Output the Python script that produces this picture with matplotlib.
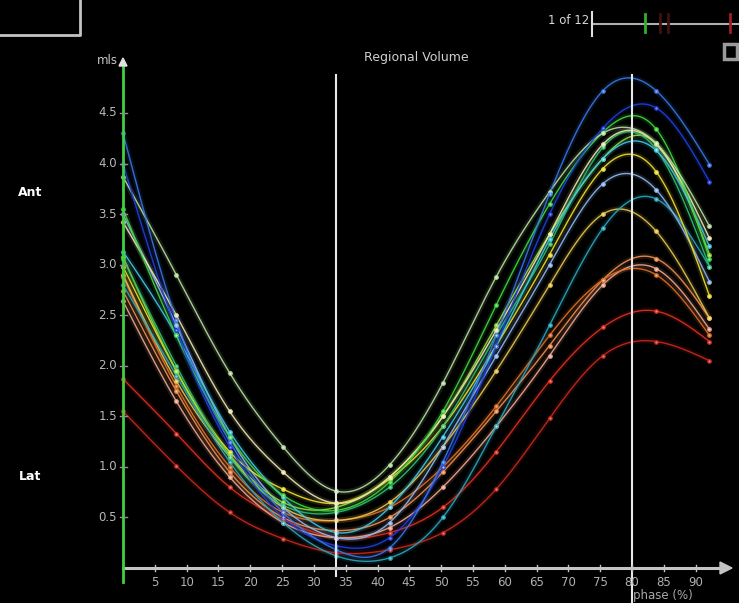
import numpy as np
import matplotlib.pyplot as plt
from matplotlib.patches import Polygon, Rectangle

# phase points (12 frames)
phase = [0, 8.38, 16.76, 25.14, 33.52, 41.9, 50.28, 58.66, 67.04, 75.42, 83.8, 92.18]

seg_blue = [4.30, 2.45, 1.25, 0.55, 0.18, 0.20, 1.05, 2.30, 3.70, 4.72, 4.72, 3.99]
seg_darkblue = [4.00, 2.35, 1.20, 0.50, 0.22, 0.30, 1.00, 2.20, 3.50, 4.35, 4.55, 3.82]
seg_palegreen = [3.87, 2.90, 1.93, 1.20, 0.76, 1.02, 1.83, 2.88, 3.72, 4.30, 4.20, 3.38]
seg_green = [3.55, 2.30, 1.30, 0.72, 0.57, 0.85, 1.55, 2.60, 3.60, 4.31, 4.34, 3.06]
seg_cream = [3.42, 2.50, 1.55, 0.95, 0.64, 0.90, 1.50, 2.35, 3.30, 4.19, 4.19, 3.26]
seg_cyan = [3.13, 2.30, 1.35, 0.70, 0.35, 0.60, 1.30, 2.20, 3.25, 4.05, 4.13, 3.18]
seg_green2 = [3.06, 2.00, 1.10, 0.62, 0.55, 0.80, 1.40, 2.30, 3.20, 4.16, 4.14, 2.98]
seg_lime = [3.08, 1.95, 1.12, 0.65, 0.60, 0.90, 1.50, 2.40, 3.30, 4.05, 4.20, 3.10]
seg_yellow = [2.98, 1.95, 1.15, 0.78, 0.64, 0.88, 1.40, 2.20, 3.10, 3.95, 3.92, 2.69]
seg_lightblue = [3.50, 2.40, 1.30, 0.60, 0.30, 0.45, 1.20, 2.10, 3.00, 3.80, 3.74, 2.83]
seg_teal = [2.80, 1.90, 1.05, 0.45, 0.12, 0.10, 0.50, 1.40, 2.40, 3.36, 3.65, 2.98]
seg_gold = [2.90, 1.85, 1.10, 0.60, 0.47, 0.65, 1.20, 1.95, 2.80, 3.50, 3.33, 2.47]
seg_orange = [2.74, 1.75, 0.95, 0.50, 0.37, 0.50, 0.95, 1.55, 2.20, 2.85, 3.06, 2.47]
seg_salmon = [2.64, 1.65, 0.90, 0.45, 0.30, 0.40, 0.80, 1.40, 2.10, 2.80, 2.96, 2.36]
seg_darkorange = [2.88, 1.80, 1.00, 0.55, 0.47, 0.60, 1.00, 1.60, 2.30, 2.85, 2.90, 2.30]
seg_red = [1.87, 1.33, 0.80, 0.48, 0.30, 0.35, 0.60, 1.15, 1.85, 2.38, 2.54, 2.24]
seg_darkred = [1.55, 1.01, 0.55, 0.29, 0.15, 0.18, 0.35, 0.78, 1.48, 2.10, 2.24, 2.05]

segments = [
    (seg_darkred, '#c8281e'), (seg_red, '#e03020'), (seg_salmon, '#f0a890'),
    (seg_orange, '#f09050'), (seg_darkorange, '#e07028'), (seg_gold, '#e8c850'),
    (seg_teal, '#2aa8c0'), (seg_lightblue, '#90b8f0'), (seg_yellow, '#f0e030'),
    (seg_lime, '#90e040'), (seg_green2, '#30c070'), (seg_cyan, '#40c8e8'),
    (seg_cream, '#f0e8b0'), (seg_green, '#40d840'), (seg_palegreen, '#b8e0a0'),
    (seg_darkblue, '#2040e0'), (seg_blue, '#3878e8'),
]

y_ticks = [0.5, 1.0, 1.5, 2.0, 2.5, 3.0, 3.5, 4.0, 4.5]
x_ticks = list(range(5, 95, 5))


def natural_spline(x, y, xs):
    x = np.asarray(x, float)
    y = np.asarray(y, float)
    n = len(x)
    h = np.diff(x)
    A = np.zeros((n, n))
    b = np.zeros(n)
    A[0, 0] = 1
    A[-1, -1] = 1
    for i in range(1, n - 1):
        A[i, i - 1] = h[i - 1]
        A[i, i] = 2 * (h[i - 1] + h[i])
        A[i, i + 1] = h[i]
        b[i] = 6 * ((y[i + 1] - y[i]) / h[i] - (y[i] - y[i - 1]) / h[i - 1])
    M = np.linalg.solve(A, b)
    idx = np.clip(np.searchsorted(x, xs) - 1, 0, n - 2)
    x0, x1 = x[idx], x[idx + 1]
    hh = x1 - x0
    t0, t1 = x1 - xs, xs - x0
    return (M[idx] * t0**3 / (6 * hh) + M[idx + 1] * t1**3 / (6 * hh)
            + (y[idx] / hh - M[idx] * hh / 6) * t0
            + (y[idx + 1] / hh - M[idx + 1] * hh / 6) * t1)


W, H = 739, 603
fig = plt.figure(figsize=(W / 100, H / 100), dpi=100, facecolor='black')

# data axes spanning the whole figure; x=0 at px 123, x=80 at px 632, y=0 at py 568, y=4.5 at py 113
sx = (632 - 123) / 80.0
sy = (568 - 113) / 4.5
ax = fig.add_axes([0, 0, 1, 1])
ax.set_facecolor('black')
ax.set_xlim(-123 / sx, (W - 123) / sx)
ax.set_ylim(-(H - 568) / sy, 568 / sy)
ax.axis('off')

xs = np.linspace(phase[0], phase[-1], 400)
for vals, col in segments:
    ys = natural_spline(phase, vals, xs)
    ax.plot(xs, ys, color=col, lw=4, alpha=0.13, solid_capstyle='round', zorder=2)
    ax.plot(xs, ys, color=col, lw=1.0, alpha=0.9, zorder=3)
    ax.plot(phase, vals, 'o', color=col, ms=3.4, mec='none', alpha=0.95, zorder=4)
    ax.plot(phase, vals, 'o', color='white', ms=1.5, mec='none', alpha=0.45, zorder=5)

# overlay axes in pixel coords for the frame decorations
ov = fig.add_axes([0, 0, 1, 1])
ov.set_xlim(0, W)
ov.set_ylim(H, 0)
ov.axis('off')
ov.patch.set_alpha(0)

grey = '#c4c4c4'

def X(v):
    return 123 + v * sx

def Y(v):
    return 568 - v * sy

# phase markers
ov.plot([X(33.5), X(33.5)], [75, 576], color='#e8e8e8', lw=1.5, zorder=6)
ov.plot([X(80), X(80)], [75, 603], color='#e8e8e8', lw=1.5, zorder=6)

# x axis with arrow
ov.plot([123, 724], [568, 568], color=grey, lw=2.2, zorder=7)
ov.add_patch(Polygon([[720, 562], [732, 568], [720, 574]], closed=True, color=grey, zorder=7))
for t in x_ticks:
    ov.plot([X(t), X(t)], [565, 571], color=grey, lw=1, zorder=7)
    ov.text(X(t), 583, str(t), color='#b0b0b0', fontsize=8.5, ha='center', va='center', zorder=8)
ov.text(663, 595, 'phase (%)', color='#a8a8a8', fontsize=8.5, ha='center', va='center', zorder=8)

# y axis (green) with arrow
ov.plot([123, 123], [582, 64], color='#40d040', lw=2, zorder=7)
ov.add_patch(Polygon([[119, 66], [123, 58], [127, 66]], closed=True, color='#e0e0e0', zorder=8))
for t in y_ticks:
    ov.plot([120, 127], [Y(t), Y(t)], color='#909090', lw=1, zorder=7)
    ov.text(117, Y(t), f'{t:.1f}', color='#b8b8b8', fontsize=8.5, ha='right', va='center', zorder=8)
ov.text(118, 61, 'mls', color='#c8c8c8', fontsize=8.5, ha='right', va='center', zorder=8)

ov.text(416, 58, 'Regional Volume', color='#d0d0d0', fontsize=9, ha='center', va='center')
ov.text(30, 192, 'Ant', color='white', fontsize=9, fontweight='bold', ha='center', va='center')
ov.text(30, 476, 'Lat', color='white', fontsize=9, fontweight='bold', ha='center', va='center')

# top-left box fragment
ov.plot([0, 80, 80], [35, 35, 0], color=grey, lw=2)

# frame slider
ov.text(589, 20, '1 of 12', color='#d8d8d8', fontsize=8.5, ha='right', va='center')
ov.plot([592, 739], [24, 24], color='#b0b0b0', lw=1.5)
ov.plot([592, 592], [12, 36], color='#e0e0e0', lw=1.5)
ov.plot([645, 645], [14, 32], color='#30b030', lw=2)
ov.plot([660, 660], [14, 32], color='#401010', lw=2)
ov.plot([668, 668], [14, 32], color='#401010', lw=2)
ov.plot([730, 730], [14, 32], color='#a02020', lw=2)
ov.add_patch(Rectangle((724, 44), 13, 15, fill=False, ec='#9a9a9a', lw=2.5))

fig.savefig('out.png', dpi=100, facecolor='black')
